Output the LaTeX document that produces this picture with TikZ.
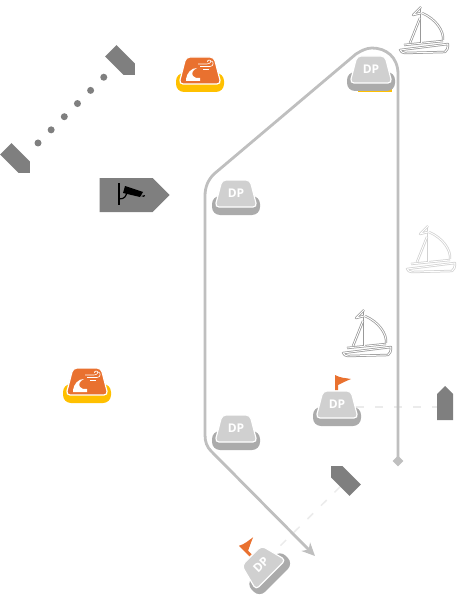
\documentclass[tikz,border=0pt]{standalone}
\usepackage{fontspec}
\setmainfont{Open Sans}
\usetikzlibrary{arrows.meta,backgrounds,shapes.geometric,shapes.symbols}
\definecolor{routeDraw}{HTML}{BFBFBF}
\definecolor{vesselFill}{HTML}{7F7F7F}
\definecolor{dpTop}{HTML}{D0D0D0}
\definecolor{dpBase}{HTML}{ABABAB}
\definecolor{hazTop}{HTML}{E9712F}
\definecolor{hazBase}{HTML}{FFC000}
\definecolor{linkDraw}{HTML}{EBEBEB}
\tikzset{
  x=1pt, y=-1pt,
  vessel/.style ={signal, signal to=east, signal pointer angle=90, fill=vesselFill, inner sep=0pt,
                  minimum width=34pt, minimum height=16pt},
  route/.style  ={draw=routeDraw, line width=2.8pt},
  link/.style   ={draw=linkDraw, line width=1.5pt, dash pattern=on 8pt off 11pt},
  dots/.style   ={draw=vesselFill, line width=7pt, line cap=round, dash pattern=on 0pt off 18.6pt},
  routemark/.style ={diamond, fill=routeDraw, inner sep=0pt, minimum size=11pt},
  buoytext/.style={font=\fontsize{12}{14}\bfseries, text=white, inner sep=0pt, transform shape},
  pics/buoy/.style n args={3}{code={
    \fill[#1, rounded corners=8pt] (-24,0) rectangle (24,19);
    \draw[fill=#2, draw=white, line width=1.2pt, rounded corners=4pt]
      (-14,-16) -- (14,-16) -- (21,11) -- (-21,11) -- cycle;
    \node[buoytext] (-label) at (0,-3) {#3};
  }},
  pics/flag/.style={code={
    \fill[hazTop] (-2,-32) .. controls (3,-29) and (9,-29) .. (14,-28)
      .. controls (9,-26) and (5,-24) .. (1,-22) -- (1,-17) -- (-2,-17) -- cycle;
  }},
  pics/hazardicon/.style={code={
    \fill[white] (-14,8) -- (-14,6) .. controls (-13,0) and (-9,-5) .. (-3,-5)
      .. controls (-7,-3) and (-9,0) .. (-7,3) .. controls (-6,5) and (-3,5) .. (0,5)
      -- (0,8) -- cycle;
    \draw[white, line width=.6pt] (-2,-9) -- (7,-9) .. controls (11,-9) and (12,-13) .. (9,-13) .. controls (7,-13) and (7,-11) .. (8,-11);
    \draw[white, line width=.6pt] (0,-6.5) -- (10,-6.5) .. controls (14,-6.5) and (14,-12) .. (11,-12);
    \draw[white, line width=.6pt] (3,-4) -- (9,-4);
  }},
  pics/sailboat/.style={code={
    \begin{scope}[line join=round]
      \tikzset{boatline/.style={draw=#1, line width=.75pt, double=white, double distance=.9pt}}
      \draw[boatline] (-21,7) -- (27,1) .. controls (27,5) and (26,8) .. (24,9) -- (-16,10) .. controls (-18,10) and (-20,9) .. cycle;
      \draw[boatline] (-17,2) -- (22,-2);
      \draw[boatline] (0,-36) -- (0,0);
      \draw[boatline] (0,-36) -- (-8,-28) -- (0,-30);
      \draw[boatline] (1,-30) .. controls (15,-24) and (23,-12) .. (22,-3);
      \draw[boatline] (-1,-25) -- (-11,0);
    \end{scope}
  }},
  pics/camera/.style={code={
    \draw[black, line width=1.4pt] (0,-11) -- (0,11);
    \draw[black, line width=1.2pt] (0,5) .. controls (6,5) and (7,2) .. (8,-2);
    \fill[black] (6,-8) -- (24,-2) -- (21,3) -- (4,-1) -- cycle;
    \fill[black] (22,2) -- (26,1) -- (25,3) -- cycle;
  }},
}
\begin{document}
\begin{tikzpicture}
  \useasboundingbox (0,0) rectangle (462,596);

  % sailing boats
  \pic at (421,43)  {sailboat=black!40};
  \pic at (428,262) {sailboat=black!18};
  \pic at (364,346) {sailboat=black!40};

  % vessels
  \node[vessel, rotate=-45] (vesselA) at (15,158) {};
  \node[vessel, rotate=-45] (vesselB) at (120,60) {};
  \node[vessel, minimum width=70pt, minimum height=34pt] (vesselC) at (126,195) {};
  \node[vessel, rotate=90]  (vesselD) at (445,407) {};
  \node[vessel, rotate=135] (vesselE) at (346,481) {};
  \pic at (119,194) {camera};

  % buoys
  \fill[hazBase] (358,84) rectangle (392,92.5);
  \pic (dpA) at (371,72)  {buoy={dpBase}{dpTop}{DP}};
  \pic (dpB) at (236,196) {buoy={dpBase}{dpTop}{DP}};
  \pic (dpC) at (236,431) {buoy={dpBase}{dpTop}{DP}};
  \pic (dpD) at (337,407) {buoy={dpBase}{dpTop}{DP}};
  \pic at (337,407) {flag};
  \pic[rotate=45] (dpE) at (263,567) {buoy={dpBase}{dpTop}{DP}};
  \pic[rotate=45] at (263,567) {flag};
  \pic (hazA) at (200,73) {buoy={hazBase}{hazTop}{}};
  \pic at (200,73) {hazardicon};
  \pic (hazB) at (87,384) {buoy={hazBase}{hazTop}{}};
  \pic at (87,384) {hazardicon};

  % route
  \node[routemark] (routeStart) at (398,461) {};
  \coordinate (routeTip) at (315,556);
  \draw[route, -{Stealth[length=13pt, width=12pt, inset=4pt]}] (routeStart.center) -- (398,74)
    .. controls (398,57) and (386,48) .. (372,48)
    .. controls (366,48) and (361,51) .. (356,54) -- (214,174)
    .. controls (208,180) and (205,187) .. (205,196) -- (205,435)
    .. controls (205,442) and (207,447) .. (211,451) -- (routeTip);

  % links between vessels and buoys
  \coordinate (dotsA) at (38,143);
  \coordinate (dotsB) at (104,77);
  \draw[dots] (dotsA) -- (dotsB);
  \begin{scope}[on background layer]
    \draw[link] (dpD-label |- vesselD) -- (vesselD);
    \draw[link] (dpE-label) -- (vesselE);
  \end{scope}
\end{tikzpicture}
\end{document}
